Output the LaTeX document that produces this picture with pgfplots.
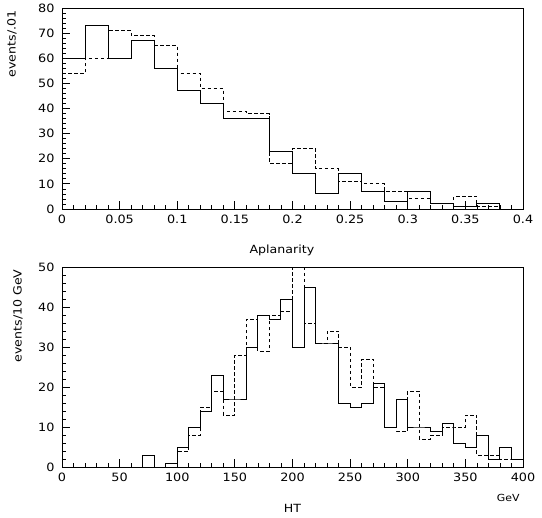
\documentclass[border=0pt]{standalone}
\usepackage{fontspec}
\setmainfont{DejaVu Sans}[FakeStretch=1.12]
\usepackage{pgfplots}
\pgfplotsset{compat=1.18}

\pgfplotsset{
  paw/.style={
    scale only axis, width=461bp, anchor=south west,
    tick pos=left, tick align=inside,
    major tick length=8bp, minor tick length=4bp,
    axis line style={line width=0.8bp},
    every tick/.style={black, line width=0.8bp},
    tick label style={font=\fontsize{11.5}{13}\selectfont},
    label style={font=\fontsize{11.3}{13}\selectfont},
    /pgf/number format/assume math mode=true,
    yticklabel style={xshift=-4bp},
    xticklabel style={yshift=-2bp},
    minor x tick num=4, minor y tick num=4,
    scaled x ticks=false, scaled y ticks=false,
  },
  solidh/.style={black, line width=1bp, const plot, mark=none},
  dashh/.style={black, line width=1bp, const plot, mark=none, dash pattern=on 3.5bp off 2.5bp},
}

\begin{document}
\begin{tikzpicture}
\useasboundingbox (0bp,0bp) rectangle (542bp,-518bp);

\begin{axis}[paw,
  at={(62bp,-209bp)}, height=201bp,
  xmin=0, xmax=0.4, ymin=0, ymax=80,
  xtick={0,0.05,0.1,0.15,0.2,0.25,0.3,0.35,0.4},
  ytick={0,10,20,30,40,50,60,70,80},
  xticklabel style={/pgf/number format/fixed, /pgf/number format/precision=2},
  xlabel={Aplanarity},
  xlabel style={at={(axis description cs:0.477,-0.204)}, anchor=center},
  ylabel={events/.01},
  ylabel style={at={(axis description cs:-0.1085,1.005)}, anchor=east},
]
\addplot[dashh] coordinates {
(0,54) (0.02,60) (0.04,71) (0.06,69) (0.08,65) (0.10,54) (0.12,48) (0.14,39)
(0.16,38) (0.18,18) (0.20,24) (0.22,16) (0.24,11) (0.26,10) (0.28,7) (0.30,4)
(0.32,2) (0.34,5) (0.36,1) (0.38,0) (0.40,0)};
\addplot[solidh] coordinates {
(0,60) (0.02,73) (0.04,60) (0.06,67) (0.08,56) (0.10,47) (0.12,42) (0.14,36)
(0.16,36) (0.18,23) (0.20,14) (0.22,6) (0.24,14) (0.26,7) (0.28,3) (0.30,7)
(0.32,2) (0.34,1) (0.36,2) (0.38,0) (0.40,0)};
\end{axis}

\begin{axis}[paw,
  at={(62bp,-467bp)}, height=200bp,
  xmin=0, xmax=400, ymin=0, ymax=50,
  xtick={0,50,100,150,200,250,300,350,400},
  ytick={0,10,20,30,40,50},
  xlabel={HT},
  xlabel style={at={(axis description cs:0.5,-0.205)}, anchor=center},
  ylabel={events/10 GeV},
  ylabel style={at={(axis description cs:-0.0954,1.005)}, anchor=east},
  extra description/.code={\node[anchor=east, font=\fontsize{9.8}{11}\selectfont] at (1.0,-0.155) {GeV};},
]
\addplot[dashh] coordinates {
(0,0) (90,0) (100,4) (110,8) (120,15) (130,19) (140,13) (150,28) (160,37)
(170,29) (180,38) (190,39) (200,55) (210,36) (220,31) (230,34) (240,30)
(250,20) (260,27) (270,20) (280,10) (290,9) (300,19) (310,7) (320,8)
(330,10) (340,10) (350,13) (360,3) (370,3) (380,2) (390,2) (400,2)};
\addplot[solidh] coordinates {
(0,0) (70,3) (80,0) (90,1) (100,5) (110,10) (120,14) (130,23) (140,17)
(150,17) (160,30) (170,38) (180,37) (190,42) (200,30) (210,45) (220,31)
(230,31) (240,16) (250,15) (260,16) (270,21) (280,10) (290,17) (300,10)
(310,10) (320,9) (330,11) (340,6) (350,5) (360,8) (370,2) (380,5) (390,2) (400,2)};
\end{axis}
\end{tikzpicture}
\end{document}
